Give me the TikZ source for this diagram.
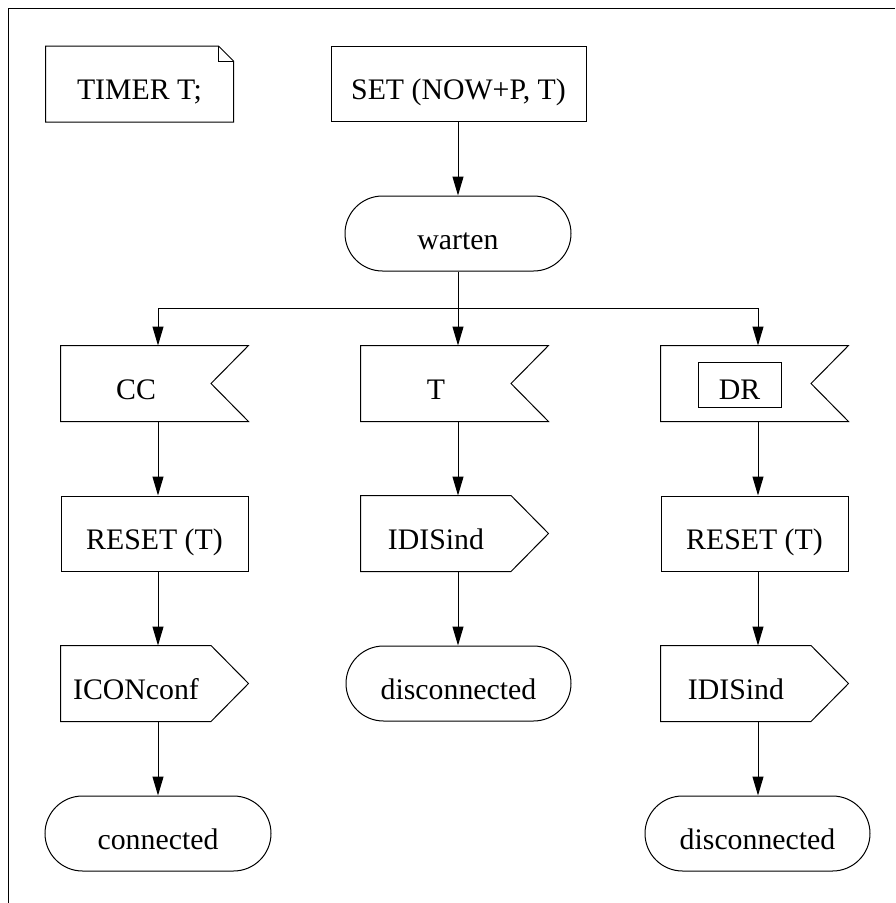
\documentclass[tikz,border=0pt]{standalone}
\usepackage{fontspec}
\setmainfont{Liberation Serif}
\usetikzlibrary{arrows.meta}
\begin{document}
\begin{tikzpicture}[x=1pt,y=-1pt, line width=1pt,
  every node/.style={font=\fontsize{29.8}{35}\selectfont, inner sep=0pt, text height=31pt, text depth=0pt},
  task/.style={draw, minimum width=187pt, minimum height=75pt},
  state/.style={draw, rounded corners=37.5pt, minimum width=226pt, minimum height=75pt},
  sigshape/.style={minimum width=187pt, minimum height=75pt},
  flow/.style={-{Triangle[length=19pt,width=11pt]}}]
\useasboundingbox (0,0) rectangle (895,903);
\draw (8.5,903) -- (8.5,8.5) -- (895,8.5);

% top row
\node[sigshape] (timer) at (139.5,84) {TIMER T;};
\draw (timer.north west) -- ([xshift=-15pt]timer.north east) -- ([yshift=-15pt]timer.north east) -- (timer.south east) -- (timer.south west) -- cycle;
\draw ([xshift=-15pt]timer.north east) |- ([yshift=-15pt]timer.north east);
\node[task, minimum width=255pt] (set) at (458.5,83.5) {SET (NOW+P, T)};
\node[state] (warten) at (458,233.5) {warten};

\coordinate (c1) at (158,308);
\coordinate (c2) at (458,308);
\coordinate (c3) at (758,308);

% inputs
\node[sigshape] (cc) at (154.5,383.5) {\makebox[150pt]{CC}\hspace*{37pt}};
\node[sigshape] (t) at (454.5,383.5) {\makebox[150pt]{T}\hspace*{37pt}};
\node[sigshape] (dr) at (754.5,383.5) {};
\node[draw, minimum width=83pt, minimum height=45pt, text height=29pt] (drbox) at (739.5,384.5) {DR};
\foreach \n in {cc,t,dr}
  \draw (\n.north west) -- (\n.north east) -- ([xshift=-37.5pt]\n.east) -- (\n.south east) -- (\n.south west) -- cycle;

% row 3
\node[task] (reset1) at (154.5,533.5) {RESET (T)};
\node[sigshape] (idis1) at (454.5,533.5) {\makebox[150pt]{IDISind}\hspace*{37pt}};
\node[task] (reset2) at (754.5,533.5) {RESET (T)};

% row 4
\node[sigshape] (iconf) at (154.5,683.5) {\makebox[150pt]{ICONconf}\hspace*{37pt}};
\node[state, minimum width=225pt] (disc1) at (458.5,683.5) {disconnected};
\node[sigshape] (idis2) at (754.5,683.5) {\makebox[150pt]{IDISind}\hspace*{37pt}};
\foreach \n in {idis1,iconf,idis2}
  \draw (\n.north west) -- ([xshift=-37.5pt]\n.north east) -- (\n.east) -- ([xshift=-37.5pt]\n.south east) -- (\n.south west) -- cycle;

% row 5
\node[state] (conn) at (158,833.5) {connected};
\node[state, minimum width=225pt] (disc2) at (757.5,833.5) {disconnected};

% connectors
\draw[flow] (set.south -| warten.north) -- (warten.north);
\draw (warten.south) -- (c2);
\draw (c1) -- (c3);
\draw[flow] (c1) -- (cc.north -| c1);
\draw[flow] (c2) -- (t.north -| c2);
\draw[flow] (c3) -- (dr.north -| c3);
\draw[flow] (cc.south -| c1) -- (reset1.north -| c1);
\draw[flow] (reset1.south -| c1) -- (iconf.north -| c1);
\draw[flow] (iconf.south -| c1) -- (conn.north);
\draw[flow] (t.south -| c2) -- (idis1.north -| c2);
\draw[flow] (idis1.south -| c2) -- (disc1.north -| c2);
\draw[flow] (dr.south -| c3) -- (reset2.north -| c3);
\draw[flow] (reset2.south -| c3) -- (idis2.north -| c3);
\draw[flow] (idis2.south -| c3) -- (disc2.north -| c3);
\end{tikzpicture}
\end{document}
